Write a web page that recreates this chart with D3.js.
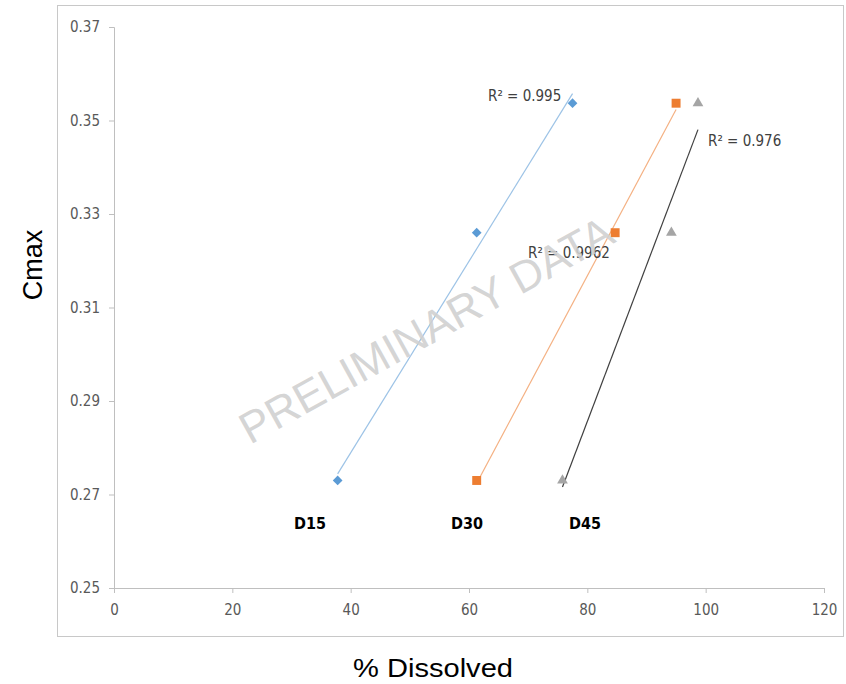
<!DOCTYPE html>
<html>
<head>
<meta charset="utf-8">
<script src="https://cdn.jsdelivr.net/npm/d3@7"></script>
<style>
  html, body { margin: 0; padding: 0; background: #fff; }
  svg { display: block; }
</style>
</head>
<body>
<svg id="chart" width="846" height="684"></svg>
<script>
// Series: % dissolved (x) vs Cmax (y) at three dissolution time points
const seriesNames = ["D15", "D30", "D45"];
const cmaxValues = [0.273, 0.326, 0.3537];
const dissolvedD15 = [37.8, 61.3, 77.5];
const dissolvedD30 = [61.3, 84.7, 95.0];
const dissolvedD45 = [75.8, 94.2, 98.7];
const r2Labels = ["R² = 0.995", "R² = 0.9962", "R² = 0.976"];
const xTicks = [0, 20, 40, 60, 80, 100, 120];
const yTicks = [0.25, 0.27, 0.29, 0.31, 0.33, 0.35, 0.37];

const svg = d3.select("#chart");
const x = d3.scaleLinear().domain([0, 120]).range([114, 824]);
const y = d3.scaleLinear().domain([0.25, 0.37]).range([588, 27]);

// outer chart frame
svg.append("rect").attr("x", 57.5).attr("y", 5.5).attr("width", 786).attr("height", 631)
  .attr("fill", "none").attr("stroke", "#c8c8c8").attr("stroke-width", 1);

const tickFont = "'DejaVu Sans Condensed', 'Liberation Sans Narrow', 'Liberation Sans', sans-serif";

const xAxis = svg.append("g").attr("transform", `translate(0,${y(0.25)})`)
  .call(d3.axisBottom(x).tickValues(xTicks).tickSize(5).tickPadding(11).tickFormat(d3.format("d")));
const yAxis = svg.append("g").attr("transform", `translate(${x(0)},0)`)
  .call(d3.axisLeft(y).tickValues(yTicks).tickSize(5).tickPadding(9).tickFormat(d3.format(".2f")));
[xAxis, yAxis].forEach(g => {
  g.select(".domain").attr("stroke", "#bfbfbf");
  g.selectAll(".tick line").attr("stroke", "#bfbfbf");
  g.selectAll(".tick text").attr("fill", "#595959").style("font-family", tickFont).style("font-size", "15px");
});

// axis titles
svg.append("text").attr("x", 433).attr("y", 677).attr("text-anchor", "middle")
  .style("font-family", "'Liberation Sans', Arial, sans-serif").style("font-size", "26px").attr("fill", "#000")
  .attr("textLength", 160).attr("lengthAdjust", "spacingAndGlyphs")
  .text("% Dissolved");
svg.append("text").attr("transform", "translate(42,265) rotate(-90)").attr("text-anchor", "middle")
  .style("font-family", "'Liberation Sans', Arial, sans-serif").style("font-size", "27px").attr("fill", "#000")
  .text("Cmax");

const series = [
  { name: seriesNames[0], xs: dissolvedD15, color: "#5b9bd5", line: "#9dc3e6", shape: d3.symbolDiamond2, size: 60, r2: r2Labels[0], r2pos: [488, 101] },
  { name: seriesNames[1], xs: dissolvedD30, color: "#ed7d31", line: "#f4b183", shape: d3.symbolSquare, size: 80, r2: r2Labels[1], r2pos: [528, 258] },
  { name: seriesNames[2], xs: dissolvedD45, color: "#a5a5a5", line: "#404040", shape: d3.symbolTriangle, size: 50, r2: r2Labels[2], r2pos: [708, 146] }
];

// least-squares fit of Cmax on % dissolved
function fit(xs, ys) {
  const mx = d3.mean(xs), my = d3.mean(ys);
  let sxy = 0, sxx = 0;
  xs.forEach((v, i) => { sxy += (v - mx) * (ys[i] - my); sxx += (v - mx) ** 2; });
  const b = sxy / sxx;
  return v => my + b * (v - mx);
}

series.forEach(s => {
  const f = fit(s.xs, cmaxValues);
  const x0 = d3.min(s.xs), x1 = d3.max(s.xs);
  svg.append("line")
    .attr("x1", x(x0)).attr("y1", y(f(x0)))
    .attr("x2", x(x1)).attr("y2", y(f(x1)))
    .attr("stroke", s.line).attr("stroke-width", 1.2);
});

series.forEach(s => {
  svg.append("g").selectAll("path").data(s.xs).join("path")
    .attr("transform", (d, i) => `translate(${x(d)},${y(cmaxValues[i])})`)
    .attr("d", d3.symbol().type(s.shape).size(s.size))
    .attr("fill", s.color);
});

// series labels under the lowest points
const labelX = [310, 467, 585];
series.forEach((s, i) => {
  svg.append("text").attr("x", labelX[i]).attr("y", 529).attr("text-anchor", "middle")
    .style("font-family", "'DejaVu Sans Condensed', 'Liberation Sans', sans-serif")
    .style("font-size", "16px").style("font-weight", "bold").attr("fill", "#000")
    .text(s.name);
  svg.append("text").attr("x", s.r2pos[0]).attr("y", s.r2pos[1])
    .style("font-family", tickFont).style("font-size", "15px").attr("fill", "#404040")
    .text(s.r2);
});

// watermark
svg.append("text").attr("transform", "translate(428,333) rotate(-29)")
  .attr("text-anchor", "middle").attr("dominant-baseline", "middle")
  .style("font-family", "'Liberation Sans', Arial, sans-serif").style("font-size", "44px")
  .attr("fill", "#d0d0d0").attr("fill-opacity", 0.9)
  .text("PRELIMINARY DATA");
</script>
</body>
</html>
